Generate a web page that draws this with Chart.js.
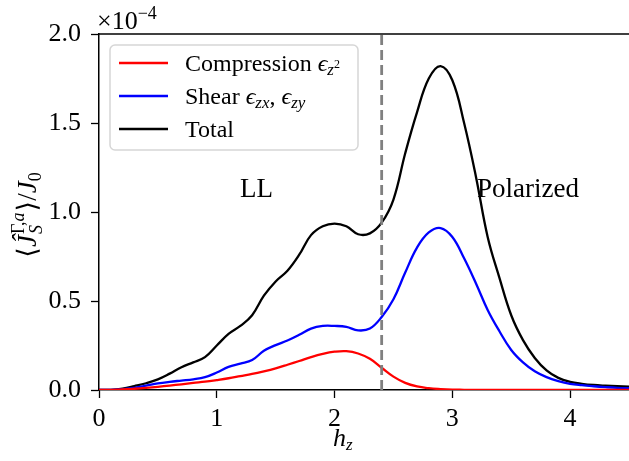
<!DOCTYPE html>
<html>
<head>
<meta charset="utf-8">
<script src="https://cdn.jsdelivr.net/npm/chart.js@4.4.0/dist/chart.umd.min.js"></script>
<style>
  html, body { margin: 0; padding: 0; background: #fff; overflow: hidden; }
  #wrap { width: 629px; height: 461px; }
</style>
</head>
<body>
<div id="wrap"><canvas id="chart" width="629" height="461"></canvas></div>
<script>
// --- Data (y in units of 1e-4) ---
const hz = [0, 0.1, 0.2, 0.3, 0.4, 0.5, 0.6, 0.7, 0.8, 0.9,
            1.0, 1.1, 1.2, 1.3, 1.4, 1.5, 1.6, 1.7, 1.8, 1.9,
            2.0, 2.1, 2.2, 2.3, 2.4, 2.5, 2.6, 2.7, 2.8, 2.9,
            3.0, 3.1, 3.2, 3.3, 3.4, 3.5, 3.6, 3.7, 3.8, 3.9,
            4.0, 4.1, 4.2, 4.3, 4.4, 4.5];
const compression = [0, 0.001, 0.003, 0.007, 0.012, 0.018, 0.025, 0.032, 0.040, 0.047,
                     0.056, 0.066, 0.078, 0.090, 0.105, 0.122, 0.142, 0.163, 0.185, 0.203,
                     0.215, 0.218, 0.205, 0.175, 0.125, 0.075, 0.040, 0.020, 0.010, 0.005,
                     0.002, 0.001, 0, 0, 0, 0, 0, 0, 0, 0,
                     0, 0, 0, 0, 0, 0];
const shear = [0, 0.001, 0.005, 0.012, 0.024, 0.037, 0.046, 0.053, 0.060, 0.072,
               0.098, 0.130, 0.148, 0.168, 0.220, 0.252, 0.278, 0.310, 0.345, 0.360,
               0.360, 0.355, 0.335, 0.345, 0.410, 0.510, 0.660, 0.800, 0.885, 0.910,
               0.860, 0.740, 0.600, 0.450, 0.330, 0.225, 0.155, 0.105, 0.072, 0.050,
               0.035, 0.027, 0.021, 0.016, 0.012, 0.010];
const total = [0, 0.001, 0.008, 0.022, 0.038, 0.060, 0.092, 0.128, 0.155, 0.185,
               0.250, 0.315, 0.360, 0.420, 0.530, 0.610, 0.670, 0.760, 0.870, 0.920,
               0.935, 0.920, 0.875, 0.880, 0.940, 1.070, 1.330, 1.560, 1.750, 1.820,
               1.740, 1.500, 1.200, 0.860, 0.630, 0.420, 0.280, 0.180, 0.110, 0.068,
               0.046, 0.035, 0.028, 0.024, 0.021, 0.019];
const xTicks = [0, 1, 2, 3, 4];
const yTicks = [0, 0.5, 1.0, 1.5, 2.0];
const boundaryHz = 2.4;
const boundaryY = [0, 2.0];

const serif = '"Liberation Serif", "DejaVu Serif", serif';

const toPoints = (ys) => hz.map((x, i) => ({ x: x, y: ys[i] }));

// draws a run of text pieces: {t, size, italic, dy}
function drawRich(ctx, parts, x, y) {
    let cx = x;
    parts.forEach(p => {
        ctx.font = (p.italic ? 'italic ' : '') + p.size + 'px ' + serif;
        if (!p.hidden) ctx.fillText(p.t, cx, y + (p.dy || 0));
        if (!p.noAdvance) cx += ctx.measureText(p.t).width + (p.gap || 0);
    });
    return cx - x;
}
function richWidth(ctx, parts) {
    let w = 0;
    parts.forEach(p => {
        ctx.font = (p.italic ? 'italic ' : '') + p.size + 'px ' + serif;
        if (!p.noAdvance) w += ctx.measureText(p.t).width + (p.gap || 0);
    });
    return w;
}

const legendItems = [
    { color: '#ff0000', parts: [{ t: 'Compression ', size: 24 }, { t: 'ϵ', size: 24, italic: true },
                                { t: 'z', size: 17, italic: true, dy: 4 }, { t: '2', size: 12, dy: -3 }] },
    { color: '#0000ff', parts: [{ t: 'Shear ', size: 24 }, { t: 'ϵ', size: 24, italic: true },
                                { t: 'zx', size: 17, italic: true, dy: 4 }, { t: ', ', size: 24 },
                                { t: 'ϵ', size: 24, italic: true }, { t: 'zy', size: 17, italic: true, dy: 4 }] },
    { color: '#000000', parts: [{ t: 'Total', size: 24 }] }
];

const decorPlugin = {
    id: 'decor',
    afterDraw(chart) {
        const ctx = chart.ctx;
        const area = chart.chartArea;
        ctx.save();
        // top spine
        ctx.strokeStyle = '#000';
        ctx.lineWidth = 1.5;
        ctx.beginPath();
        ctx.moveTo(area.left, area.top);
        ctx.lineTo(chart.width, area.top);
        ctx.stroke();

        ctx.fillStyle = '#000';
        ctx.textBaseline = 'alphabetic';

        // offset text
        drawRich(ctx, [{ t: '×10', size: 26 }, { t: '−4', size: 18, dy: -10 }], 97, 29);

        // region labels
        ctx.font = '27px ' + serif;
        ctx.fillText('LL', 240, 197);
        ctx.fillText('Polarized', 477, 197);

        // x label
        drawRich(ctx, [{ t: 'h', size: 26, italic: true }, { t: 'z', size: 17, italic: true, dy: 4 }], 333, 446);

        // y label (rotated)
        const yParts = [
            { t: '⟨', size: 27 },
            { t: 'Ĵ', size: 27, italic: true, gap: 1 },
            { t: 'Γ,', size: 18, dy: -12, noAdvance: true },
            { t: 'S', size: 18, italic: true, dy: 6, noAdvance: true },
            { t: 'Γ,', size: 18, dy: -12, hidden: true },
            { t: 'a', size: 18, italic: true, dy: -12, gap: 1 },
            { t: '⟩/', size: 27 },
            { t: 'J', size: 27, italic: true },
            { t: '0', size: 18, dy: 5 }
        ];
        ctx.save();
        ctx.translate(36, 215);
        ctx.rotate(-Math.PI / 2);
        const w = richWidth(ctx, yParts);
        drawRich(ctx, yParts, -w / 2, 0);
        ctx.restore();

        // legend
        const lx = 110, ly = 45, lw = 248, lh = 105;
        ctx.beginPath();
        ctx.roundRect(lx, ly, lw, lh, 5);
        ctx.fillStyle = 'rgba(255,255,255,0.8)';
        ctx.fill();
        ctx.strokeStyle = '#d6d6d6';
        ctx.lineWidth = 1.5;
        ctx.stroke();
        legendItems.forEach((item, i) => {
            const ry = 63 + i * 33;
            ctx.strokeStyle = item.color;
            ctx.lineWidth = 2.4;
            ctx.beginPath();
            ctx.moveTo(119, ry);
            ctx.lineTo(168, ry);
            ctx.stroke();
            ctx.fillStyle = '#000';
            drawRich(ctx, item.parts, 185, ry + 8);
        });
        ctx.restore();
    }
};

const line = (label, ys, color) => ({
    label: label,
    data: toPoints(ys),
    borderColor: color,
    backgroundColor: color,
    borderWidth: 2.3,
    pointRadius: 0,
    tension: 0.4,
    fill: false
});

new Chart(document.getElementById('chart'), {
    type: 'line',
    data: {
        datasets: [
            {
                label: 'boundary',
                data: boundaryY.map(v => ({ x: boundaryHz, y: v })),
                borderColor: '#808080',
                borderWidth: 2.8,
                borderDash: [10, 5],
                pointRadius: 0
            },
            line('Compression', compression, '#ff0000'),
            line('Shear', shear, '#0000ff'),
            line('Total', total, '#000000')
        ]
    },
    options: {
        responsive: false,
        animation: false,
        layout: { padding: { top: 34, left: 0, right: 0, bottom: 0 } },
        plugins: { legend: { display: false }, tooltip: { enabled: false } },
        scales: {
            x: {
                type: 'linear',
                min: 0, max: 4.5,
                afterBuildTicks: (scale) => { scale.ticks = xTicks.map(v => ({ value: v })); },
                afterFit: (scale) => { scale.height = 71; },
                grid: { drawOnChartArea: false, drawTicks: true, tickLength: 8, tickColor: '#000', tickWidth: 1.3 },
                border: { color: '#000', width: 1.5 },
                ticks: { color: '#000', font: { family: serif, size: 26 }, padding: 6, maxRotation: 0, autoSkip: false }
            },
            y: {
                type: 'linear',
                min: 0, max: 2.0,
                afterBuildTicks: (scale) => { scale.ticks = yTicks.map(v => ({ value: v })); },
                afterFit: (scale) => { scale.width = 99; },
                grid: { drawOnChartArea: false, drawTicks: true, tickLength: 8, tickColor: '#000', tickWidth: 1.3 },
                border: { color: '#000', width: 1.5 },
                ticks: { color: '#000', font: { family: serif, size: 26 }, padding: 10,
                         callback: (v) => v.toFixed(1) }
            }
        }
    },
    plugins: [decorPlugin]
});
</script>
</body>
</html>
